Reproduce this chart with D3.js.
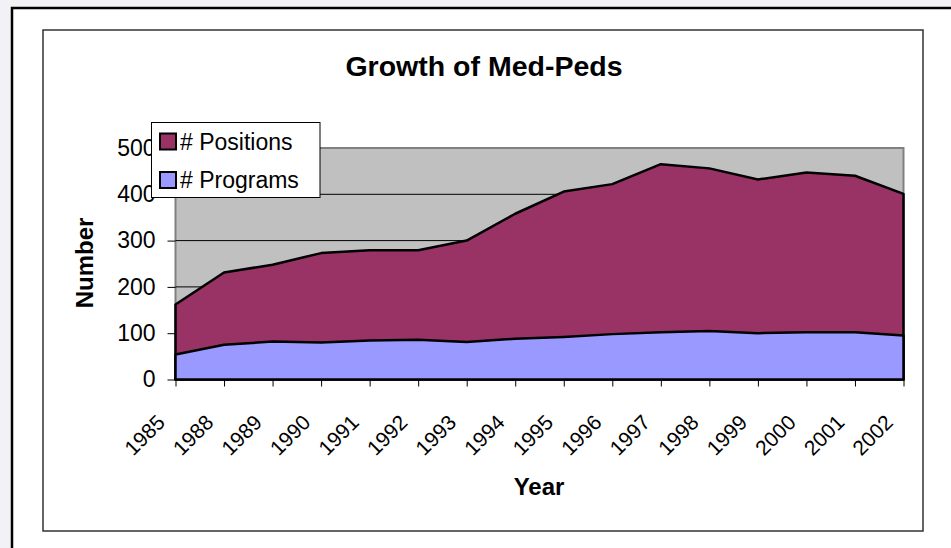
<!DOCTYPE html>
<html>
<head>
<meta charset="utf-8">
<script src="https://cdn.jsdelivr.net/npm/d3@7"></script>
<style>
  body { margin: 0; background: #f2f2f6; }
  svg { display: block; font-family: "Liberation Sans", Arial, sans-serif; }
</style>
</head>
<body>
<div id="chart"></div>
<script>
// data
const years     = ["1985","1988","1989","1990","1991","1992","1993","1994","1995","1996","1997","1998","1999","2000","2001","2002"];
const positions = [162, 231, 248, 273, 279, 279, 300, 358, 406, 422, 465, 456, 432, 447, 440, 401];
const programs  = [54, 75, 82, 80, 84, 86, 81, 88, 92, 98, 102, 105, 100, 102, 102, 95];
const yTicks    = [0, 100, 200, 300, 400, 500];
const seriesNames = ["# Positions", "# Programs"];

const posColor  = "#993366";
const progColor = "#9999ff";
const plotBg    = "#c0c0c0";

const width = 951, height = 548;
const plot = {left: 175.5, right: 903.5, top: 148, bottom: 379.5};

const svg = d3.select("#chart").append("svg")
    .attr("width", width)
    .attr("height", height);

// outer frame + chart area frame
svg.append("rect")
    .attr("x", 12).attr("y", 8)
    .attr("width", 1000).attr("height", 600)
    .attr("fill", "#fff")
    .attr("stroke", "#000")
    .attr("stroke-width", 2.5);

svg.append("rect")
    .attr("x", 43).attr("y", 30)
    .attr("width", 880).attr("height", 501)
    .attr("fill", "#fff")
    .attr("stroke", "#333")
    .attr("stroke-width", 1.5);

// scales
const x = d3.scalePoint()
    .domain(years)
    .range([plot.left, plot.right]);

const y = d3.scaleLinear()
    .domain([0, 500])
    .range([plot.bottom, plot.top]);

// plot background
svg.append("rect")
    .attr("x", plot.left).attr("y", plot.top)
    .attr("width", plot.right - plot.left)
    .attr("height", plot.bottom - plot.top)
    .attr("fill", plotBg)
    .attr("stroke", "#808080")
    .attr("stroke-width", 2);

// gridlines
svg.append("g")
    .selectAll("line")
    .data(yTicks.filter(d => d > 0 && d < 500))
    .enter()
    .append("line")
    .attr("x1", plot.left).attr("x2", plot.right)
    .attr("y1", d => y(d)).attr("y2", d => y(d))
    .attr("stroke", "#000")
    .attr("stroke-width", 1);

// areas (overlapping, not stacked)
const area = d3.area()
    .x((d, i) => x(years[i]))
    .y0(y(0))
    .y1(d => y(d));

[[positions, posColor], [programs, progColor]].forEach(s => {
    svg.append("path")
        .datum(s[0])
        .attr("d", area)
        .attr("fill", s[1])
        .attr("stroke", "#000")
        .attr("stroke-width", 2.5)
        .attr("stroke-linejoin", "round");
});

// y axis
const yAxis = svg.append("g")
    .attr("transform", `translate(${plot.left},0)`)
    .call(d3.axisLeft(y).tickValues(yTicks).tickSize(8).tickPadding(12).tickSizeOuter(0));
yAxis.select(".domain").remove();
yAxis.selectAll(".tick line").attr("stroke", "#000");
yAxis.selectAll("text")
    .attr("font-size", 23)
    .attr("fill", "#000")
    .style("font-family", "Liberation Sans, Arial, sans-serif");

// x axis
const xAxis = svg.append("g")
    .attr("transform", `translate(0,${plot.bottom})`)
    .call(d3.axisBottom(x).tickSize(7).tickSizeOuter(0));
xAxis.select(".domain").remove();
xAxis.selectAll(".tick line").attr("stroke", "#000");
xAxis.selectAll("text")
    .attr("font-size", 21)
    .attr("fill", "#000")
    .style("font-family", "Liberation Sans, Arial, sans-serif")
    .attr("text-anchor", "end")
    .attr("x", 0).attr("y", 0).attr("dy", "0.35em")
    .attr("transform", "translate(-15,39) rotate(-45)");

// titles
svg.append("text")
    .attr("x", 484).attr("y", 76)
    .attr("text-anchor", "middle")
    .attr("font-size", 28.5)
    .attr("font-weight", "bold")
    .text("Growth of Med-Peds");

svg.append("text")
    .attr("transform", "translate(93,263) rotate(-90)")
    .attr("text-anchor", "middle")
    .attr("font-size", 24)
    .attr("font-weight", "bold")
    .text("Number");

svg.append("text")
    .attr("x", 539).attr("y", 495)
    .attr("text-anchor", "middle")
    .attr("font-size", 24)
    .attr("font-weight", "bold")
    .text("Year");

// legend
const legend = svg.append("g");
legend.append("rect")
    .attr("x", 151.5).attr("y", 122.5)
    .attr("width", 168.5).attr("height", 75)
    .attr("fill", "#fff")
    .attr("stroke", "#000")
    .attr("stroke-width", 1);

const items = legend.selectAll(".item")
    .data(seriesNames)
    .enter()
    .append("g")
    .attr("class", "item")
    .attr("transform", (d, i) => `translate(160,${141.5 + i * 38.5})`);

items.append("rect")
    .attr("x", 0).attr("y", -8)
    .attr("width", 16).attr("height", 16)
    .attr("fill", (d, i) => i === 0 ? posColor : progColor)
    .attr("stroke", "#000")
    .attr("stroke-width", 2);

items.append("text")
    .attr("x", 20).attr("dy", "0.35em")
    .attr("font-size", 23)
    .text(d => d);
</script>
</body>
</html>
